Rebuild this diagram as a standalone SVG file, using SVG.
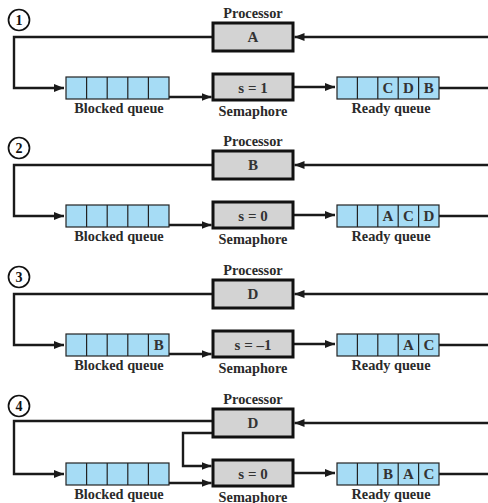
<svg xmlns="http://www.w3.org/2000/svg" width="488" height="503" viewBox="0 0 488 503">
<defs>
<style>
.lbl{font-family:"Liberation Serif","Times New Roman",serif;font-weight:bold;font-size:14.3px;fill:#2a2a2a;text-anchor:middle}
.val{font-family:"Liberation Serif","Times New Roman",serif;font-weight:bold;font-size:15px;fill:#333;text-anchor:middle}
.num{font-family:"Liberation Serif","Times New Roman",serif;font-weight:bold;font-size:14px;fill:#111;text-anchor:middle}
.box{fill:#d3d3d3;stroke:#111;stroke-width:3}
.q{fill:#a6dcf5;stroke:#222;stroke-width:1.2}
.cell{stroke:#222;stroke-width:1.2}
.circ{fill:#fff;stroke:#111;stroke-width:1.7}
.ln{fill:none;stroke:#1a1a1a;stroke-width:2.4}
</style>
<marker id="ah" markerUnits="userSpaceOnUse" markerWidth="10" markerHeight="8" refX="10" refY="4" orient="auto">
<path d="M0,0 L10,4 L0,8 z" fill="#1a1a1a"/>
</marker>
</defs>

<!-- connectors -->
<g id="connectors" class="ln">
<!-- panel 1 -->
<path d="M213,37 H14 V88 H64" marker-end="url(#ah)"/>
<path d="M169,97 H211.5" marker-end="url(#ah)"/>
<path d="M293,87 H335" marker-end="url(#ah)"/>
<path d="M439,88 H488"/>
<path d="M488,37 H294.5" marker-end="url(#ah)"/>
<!-- panel 2 -->
<path d="M213,165 H14 V216 H64" marker-end="url(#ah)"/>
<path d="M169,225 H211.5" marker-end="url(#ah)"/>
<path d="M293,215 H335" marker-end="url(#ah)"/>
<path d="M439,216 H488"/>
<path d="M488,165 H294.5" marker-end="url(#ah)"/>
<!-- panel 3 -->
<path d="M213,294 H14 V345 H64" marker-end="url(#ah)"/>
<path d="M169,354 H211.5" marker-end="url(#ah)"/>
<path d="M293,344 H335" marker-end="url(#ah)"/>
<path d="M439,345 H488"/>
<path d="M488,294 H294.5" marker-end="url(#ah)"/>
<!-- panel 4 -->
<path d="M213,421 H14 V474 H64" marker-end="url(#ah)"/>
<path d="M213,433 H183 V466 H211.5" marker-end="url(#ah)"/>
<path d="M169,483 H211.5" marker-end="url(#ah)"/>
<path d="M293,473 H335" marker-end="url(#ah)"/>
<path d="M439,474 H488"/>
<path d="M488,423 H294.5" marker-end="url(#ah)"/>
</g>

<!-- ===== Panel 1 ===== -->
<g id="step1">
<circle class="circ" cx="19" cy="20" r="10.5"/>
<text class="num" x="19" y="25">1</text>
</g>
<g id="processor1">
<text class="lbl" x="253" y="18">Processor</text>
<rect class="box" x="213" y="23" width="80" height="28"/>
<text class="val" x="253" y="42">A</text>
</g>
<g id="semaphore1">
<rect class="box" x="213" y="74" width="80" height="26"/>
<text class="val" x="253" y="92.5">s = 1</text>
<text class="lbl" x="253" y="116">Semaphore</text>
</g>
<g id="blocked1">
<rect class="q" x="66" y="77" width="103" height="22"/>
<path class="cell" d="M86.6,77 V99 M107.2,77 V99 M127.8,77 V99 M148.4,77 V99"/>
<text class="lbl" x="119" y="112.5">Blocked queue</text>
</g>
<g id="ready1">
<rect class="q" x="337" y="77" width="102" height="22"/>
<path class="cell" d="M357.4,77 V99 M377.8,77 V99 M398.2,77 V99 M418.6,77 V99"/>
<text class="val" x="388" y="93">C</text>
<text class="val" x="408.4" y="93">D</text>
<text class="val" x="428.8" y="93">B</text>
<text class="lbl" x="391" y="112.5">Ready queue</text>
</g>

<!-- ===== Panel 2 ===== -->
<g id="step2">
<circle class="circ" cx="19" cy="148" r="10.5"/>
<text class="num" x="19" y="153">2</text>
</g>
<g id="processor2">
<text class="lbl" x="253" y="146">Processor</text>
<rect class="box" x="213" y="151" width="80" height="28"/>
<text class="val" x="253" y="170">B</text>
</g>
<g id="semaphore2">
<rect class="box" x="213" y="202" width="80" height="26"/>
<text class="val" x="253" y="220.5">s = 0</text>
<text class="lbl" x="253" y="244">Semaphore</text>
</g>
<g id="blocked2">
<rect class="q" x="66" y="205" width="103" height="22"/>
<path class="cell" d="M86.6,205 V227 M107.2,205 V227 M127.8,205 V227 M148.4,205 V227"/>
<text class="lbl" x="119" y="240.5">Blocked queue</text>
</g>
<g id="ready2">
<rect class="q" x="337" y="205" width="102" height="22"/>
<path class="cell" d="M357.4,205 V227 M377.8,205 V227 M398.2,205 V227 M418.6,205 V227"/>
<text class="val" x="388" y="221">A</text>
<text class="val" x="408.4" y="221">C</text>
<text class="val" x="428.8" y="221">D</text>
<text class="lbl" x="391" y="240.5">Ready queue</text>
</g>

<!-- ===== Panel 3 ===== -->
<g id="step3">
<circle class="circ" cx="19" cy="277" r="10.5"/>
<text class="num" x="19" y="282">3</text>
</g>
<g id="processor3">
<text class="lbl" x="253" y="275">Processor</text>
<rect class="box" x="213" y="280" width="80" height="28"/>
<text class="val" x="253" y="299">D</text>
</g>
<g id="semaphore3">
<rect class="box" x="213" y="331" width="80" height="26"/>
<text class="val" x="253" y="349.5">s = –1</text>
<text class="lbl" x="253" y="373">Semaphore</text>
</g>
<g id="blocked3">
<rect class="q" x="66" y="334" width="103" height="22"/>
<path class="cell" d="M86.6,334 V356 M107.2,334 V356 M127.8,334 V356 M148.4,334 V356"/>
<text class="val" x="158.7" y="350">B</text>
<text class="lbl" x="119" y="369.5">Blocked queue</text>
</g>
<g id="ready3">
<rect class="q" x="337" y="334" width="102" height="22"/>
<path class="cell" d="M357.4,334 V356 M377.8,334 V356 M398.2,334 V356 M418.6,334 V356"/>
<text class="val" x="408.4" y="350">A</text>
<text class="val" x="428.8" y="350">C</text>
<text class="lbl" x="391" y="369.5">Ready queue</text>
</g>

<!-- ===== Panel 4 ===== -->
<g id="step4">
<circle class="circ" cx="19" cy="406" r="10.5"/>
<text class="num" x="19" y="411">4</text>
</g>
<g id="processor4">
<text class="lbl" x="253" y="404">Processor</text>
<rect class="box" x="213" y="409" width="80" height="28"/>
<text class="val" x="253" y="428">D</text>
</g>
<g id="semaphore4">
<rect class="box" x="213" y="460" width="80" height="26"/>
<text class="val" x="253" y="478.5">s = 0</text>
<text class="lbl" x="253" y="501.5">Semaphore</text>
</g>
<g id="blocked4">
<rect class="q" x="66" y="463" width="103" height="22"/>
<path class="cell" d="M86.6,463 V485 M107.2,463 V485 M127.8,463 V485 M148.4,463 V485"/>
<text class="lbl" x="119" y="498.5">Blocked queue</text>
</g>
<g id="ready4">
<rect class="q" x="337" y="463" width="102" height="22"/>
<path class="cell" d="M357.4,463 V485 M377.8,463 V485 M398.2,463 V485 M418.6,463 V485"/>
<text class="val" x="388" y="479">B</text>
<text class="val" x="408.4" y="479">A</text>
<text class="val" x="428.8" y="479">C</text>
<text class="lbl" x="391" y="498.5">Ready queue</text>
</g>
</svg>
